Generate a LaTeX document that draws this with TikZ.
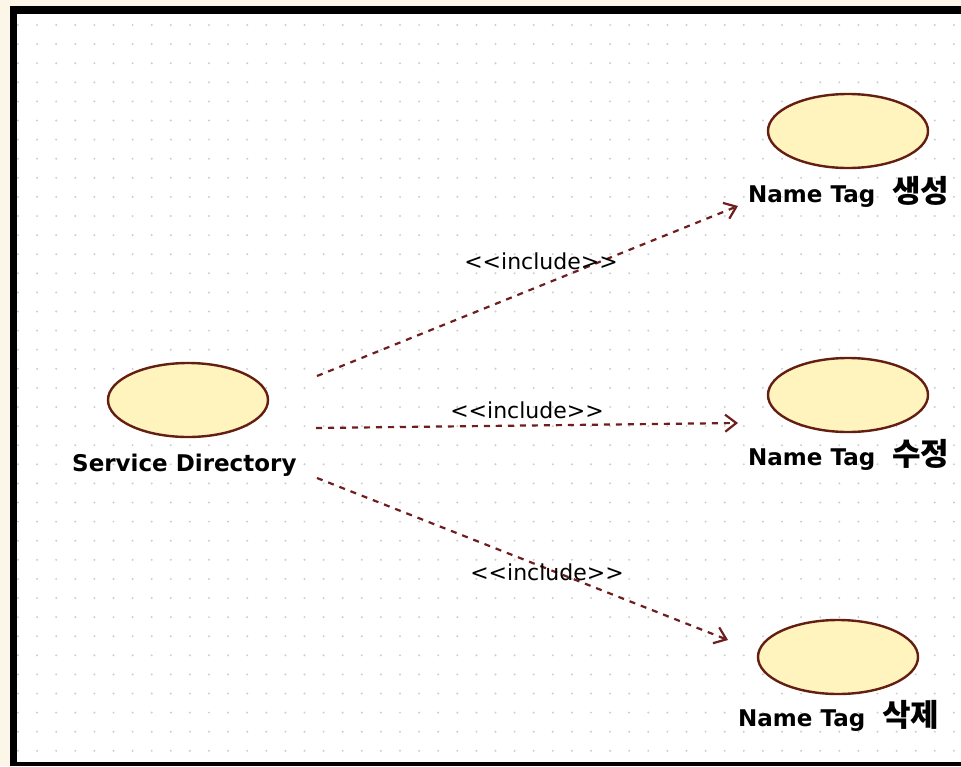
\documentclass[tikz,border=0pt]{standalone}
\usepackage{fontspec}
\setmainfont{DejaVu Sans}
\newfontfamily\kr{Noto Sans CJK KR}
\usetikzlibrary{shapes.geometric,arrows.meta}
\definecolor{cream}{RGB}{252,246,232}
\definecolor{ucfill}{RGB}{255,244,190}
\definecolor{ucline}{RGB}{100,30,18}
\definecolor{dep}{RGB}{110,30,30}
\definecolor{gridc}{RGB}{205,205,205}
\begin{document}
\begin{tikzpicture}[x=1pt,y=-1pt,
  usecase/.style={ellipse,draw=ucline,fill=ucfill,line width=2.4pt,minimum width=160pt,minimum height=74pt,inner sep=0pt},
  uclabel/.style={font=\fontsize{23}{26}\selectfont\bfseries,inner sep=0pt,anchor=base west},
  incl/.style={draw=dep,line width=2.2pt,dash pattern=on 6pt off 6pt,-{Straight Barb[length=11pt,width=17pt,line width=2.2pt]}},
  stereo/.style={font=\fontsize{22}{25}\selectfont,inner sep=0pt}]
\useasboundingbox (0,0) rectangle (961,766);
% background and frame
\fill[cream] (0,0) rectangle (961,766);
\fill[black] (10,6) rectangle (961,766);
\fill[white] (17,14) rectangle (961,762);
% dot grid
\begin{scope}
\clip (17,14) rectangle (961,762);
\foreach \i in {0,...,49}{
  \foreach \j in {0,...,38}{
    \fill[gridc] ({18+19.1*\i},{25+19.1*\j}) circle (1.1pt);
  }
}
\end{scope}
% use cases
\node[usecase] (sd) at (188,400) {};
\node[uclabel] (sdl) at (72,471) {Service Directory};
\node[usecase] (c1) at (848,131) {};
\node[uclabel] (c1l) at (748,202) {Name Tag\hspace{17pt}{\kr\fontsize{31}{33}\selectfont\bfseries 생성}};
\node[usecase] (c2) at (848,395) {};
\node[uclabel] (c2l) at (748,465) {Name Tag\hspace{17pt}{\kr\fontsize{31}{33}\selectfont\bfseries 수정}};
\node[usecase] (c3) at (838,657) {};
\node[uclabel] (c3l) at (738,726) {Name Tag\hspace{17pt}{\kr\fontsize{31}{33}\selectfont\bfseries 삭제}};
% connector end points
\coordinate (s1) at (317,376);
\coordinate (t1) at (738,206);
\coordinate (s2) at (316,428);
\coordinate (t2) at (738,423);
\coordinate (s3) at (317,478);
\coordinate (t3) at (728,640);
\draw[incl] (s1) -- (t1);
\draw[incl] (s2) -- (t2);
\draw[incl] (s3) -- (t3);
% stereotypes
\node[stereo] (i1) at (541,261) {<{}<include>{}>};
\node[stereo] (i2) at (527,410) {<{}<include>{}>};
\node[stereo] (i3) at (547,572) {<{}<include>{}>};
\end{tikzpicture}
\end{document}
